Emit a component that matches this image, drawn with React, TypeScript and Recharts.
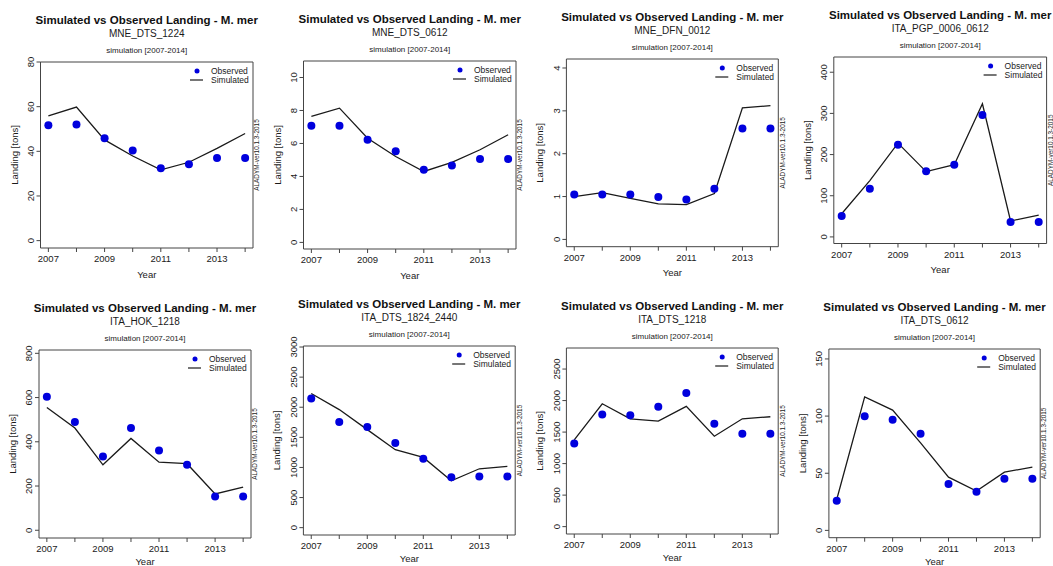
import React from 'react';
import { ComposedChart, Line, XAxis, YAxis, ReferenceArea } from 'recharts';

const years = [2007, 2008, 2009, 2010, 2011, 2012, 2013, 2014];

const fleetNames = [
  'MNE_DTS_1224',
  'MNE_DTS_0612',
  'MNE_DFN_0012',
  'ITA_PGP_0006_0612',
  'ITA_HOK_1218',
  'ITA_DTS_1824_2440',
  'ITA_DTS_1218',
  'ITA_DTS_0612',
];

// observed / simulated landings (tons)
const obsMneDts1224 = [51.7, 52, 45.8, 40.4, 32.4, 34.2, 37, 37];
const simMneDts1224 = [55.9, 59.8, 45.1, 37.9, 31.7, 35.1, 41.3, 48];
const obsMneDts0612 = [7.07, 7.07, 6.22, 5.52, 4.4, 4.67, 5.05, 5.05];
const simMneDts0612 = [7.64, 8.14, 6.32, 5.21, 4.3, 4.85, 5.62, 6.53];
const obsMneDfn0012 = [1.05, 1.05, 1.05, 0.99, 0.93, 1.18, 2.59, 2.59];
const simMneDfn0012 = [1.0, 1.09, 0.96, 0.83, 0.81, 1.07, 3.07, 3.12];
const obsItaPgp = [50.7, 116.7, 223.7, 159.4, 175.5, 296.2, 36.2, 36.2];
const simItaPgp = [56.3, 136.8, 227.8, 158.6, 175.5, 323.5, 38.6, 53.1];
const obsItaHok1218 = [604, 490, 334, 462, 361, 296, 153, 153];
const simItaHok1218 = [555, 462, 296, 415, 308, 301, 164, 195];
const obsItaDts18242440 = [2144, 1756, 1672, 1406, 1144, 839, 850, 850];
const simItaDts18242440 = [2228, 1961, 1628, 1294, 1167, 778, 978, 1017];
const obsItaDts1218 = [1319, 1780, 1769, 1901, 2119, 1631, 1472, 1472];
const simItaDts1218 = [1377, 1949, 1711, 1674, 1907, 1435, 1711, 1743];
const obsItaDts0612 = [25.9, 99.9, 96.7, 84.5, 40.5, 33.8, 45.1, 45.1];
const simItaDts0612 = [27, 116.8, 105.2, 76.6, 46.6, 34.4, 51, 55.3];

const observed = [obsMneDts1224, obsMneDts0612, obsMneDfn0012, obsItaPgp, obsItaHok1218, obsItaDts18242440, obsItaDts1218, obsItaDts0612];
const simulated = [simMneDts1224, simMneDts0612, simMneDfn0012, simItaPgp, simItaHok1218, simItaDts18242440, simItaDts1218, simItaDts0612];

const yTicks = [
  [0, 20, 40, 60, 80],
  [0, 2, 4, 6, 8, 10],
  [0, 1, 2, 3, 4],
  [0, 100, 200, 300, 400],
  [0, 200, 400, 600, 800],
  [0, 500, 1000, 1500, 2000, 2500, 3000],
  [0, 500, 1000, 1500, 2000, 2500],
  [0, 50, 100, 150],
];

// panel origin, plot box [left, right, top, bottom] in page px, y domain
const layouts = [
  { x: 0, y: 0, box: [40.5, 253, 62, 248], yDomain: [-3.3, 80] },
  { x: 263, y: 0, box: [303.5, 516, 61, 249], yDomain: [-0.4, 11.0] },
  { x: 526, y: 0, box: [566.4, 778.3, 59, 246.7], yDomain: [-0.17, 4.21] },
  { x: 790, y: 0, box: [833.8, 1046.6, 57, 243.5], yDomain: [-16, 437] },
  { x: 0, y: 283, box: [39, 251, 350, 538], yDomain: [-35, 815] },
  { x: 263, y: 283, box: [303.4, 515.2, 346, 535], yDomain: [-122, 3017] },
  { x: 526, y: 283, box: [566.4, 778.2, 348, 534], yDomain: [-117, 2834] },
  { x: 790, y: 283, box: [828.9, 1040.2, 349, 537.7], yDomain: [-6.4, 158.7] },
];

const X_DOMAIN = [2006.72, 2014.28];
const W = 263;
const H = 283;
const FONT = '"Liberation Sans", Arial, sans-serif';
const INK = '#1a1a1a';
const BLUE = '#0000dd';

const XTick = (props: any) => {
  const { x, y, payload } = props;
  if (payload.value % 2 === 0) return null;
  return (
    <text x={x} y={y + 8} textAnchor="middle" fontSize={9.5} fill={INK} fontFamily={FONT}>
      {payload.value}
    </text>
  );
};

const YTick = (props: any) => {
  const { x, y, payload } = props;
  return (
    <text x={x - 0.5} y={y} transform={`rotate(-90 ${x - 0.5} ${y})`} textAnchor="middle" fontSize={9.5} fill={INK} fontFamily={FONT}>
      {payload.value}
    </text>
  );
};

const Panel = ({ idx }: { idx: number }) => {
  const lay = layouts[idx];
  const data = years.map((yr, i) => ({ year: yr, obs: observed[idx][i], sim: simulated[idx][i] }));
  const bl = lay.box[0] - lay.x;
  const br = lay.box[1] - lay.x;
  const bt = lay.box[2] - lay.y;
  const bb = lay.box[3] - lay.y;
  const cx = (bl + br) / 2;
  const cy = (bt + bb) / 2;
  const yearY = lay.y > 0 ? bb + 27 : bb + 29.5;

  return (
    <div style={{ position: 'absolute', left: lay.x, top: lay.y, width: W, height: H }}>
      <ComposedChart width={W} height={H} data={data} margin={{ top: bt, right: W - br, left: 0, bottom: 0 }}>
        <XAxis
          dataKey="year"
          type="number"
          domain={X_DOMAIN}
          ticks={years}
          interval={0}
          height={H - bb}
          tickSize={4}
          axisLine={false}
          tickLine={{ stroke: '#444' }}
          tick={<XTick />}
          allowDataOverflow
        />
        <YAxis
          type="number"
          domain={lay.yDomain}
          ticks={yTicks[idx]}
          interval={0}
          width={bl}
          tickSize={4}
          axisLine={false}
          tickLine={{ stroke: '#444' }}
          tick={<YTick />}
          allowDataOverflow
        />
        <ReferenceArea
          x1={X_DOMAIN[0]}
          x2={X_DOMAIN[1]}
          y1={lay.yDomain[0]}
          y2={lay.yDomain[1]}
          fill="none"
          fillOpacity={0}
          stroke="#444"
          strokeWidth={1}
          ifOverflow="visible"
        />
        <Line dataKey="sim" type="linear" stroke={INK} strokeWidth={1.3} dot={false} isAnimationActive={false} />
        <Line dataKey="obs" type="linear" stroke="none" dot={{ r: 4, fill: BLUE, stroke: 'none' }} isAnimationActive={false} />
      </ComposedChart>
      <svg width={W} height={H} style={{ position: 'absolute', left: 0, top: 0, pointerEvents: 'none', overflow: 'visible' }} fontFamily={FONT}>
        <text x={cx} y={bt - 38} textAnchor="middle" fontSize={11.5} fontWeight="bold" fill="#111">
          Simulated vs Observed Landing - M. mer
        </text>
        <text x={cx} y={bt - 25} textAnchor="middle" fontSize={10} fill={INK}>
          {fleetNames[idx]}
        </text>
        <text x={cx} y={bt - 9.5} textAnchor="middle" fontSize={8} fill={INK}>
          simulation [2007-2014]
        </text>
        <text x={bl - 23} y={cy} transform={`rotate(-90 ${bl - 23} ${cy})`} textAnchor="middle" fontSize={9.5} fill={INK}>
          Landing [tons]
        </text>
        <text x={cx} y={yearY} textAnchor="middle" fontSize={9.5} fill={INK}>
          Year
        </text>
        <text x={br + 6.3} y={cy} transform={`rotate(-90 ${br + 6.3} ${cy})`} textAnchor="middle" fontSize={6.4} fill={INK}>
          ALADYM-ver10.1.3-2015
        </text>
        <circle cx={br - 56} cy={bt + 9} r={2.5} fill={BLUE} />
        <text x={br - 42} y={bt + 12} fontSize={8.5} fill={INK}>Observed</text>
        <line x1={br - 63} x2={br - 50} y1={bt + 18} y2={bt + 18} stroke={INK} strokeWidth={1.2} />
        <text x={br - 42} y={bt + 21} fontSize={8.5} fill={INK}>Simulated</text>
      </svg>
    </div>
  );
}

export default function App() {
  return (
    <div style={{ position: 'absolute', left: 0, top: 0, width: 1053, height: 566, background: '#fff', fontFamily: FONT }}>
      {fleetNames.map((_, i) => (
        <Panel key={i} idx={i} />
      ))}
    </div>
  );
}
